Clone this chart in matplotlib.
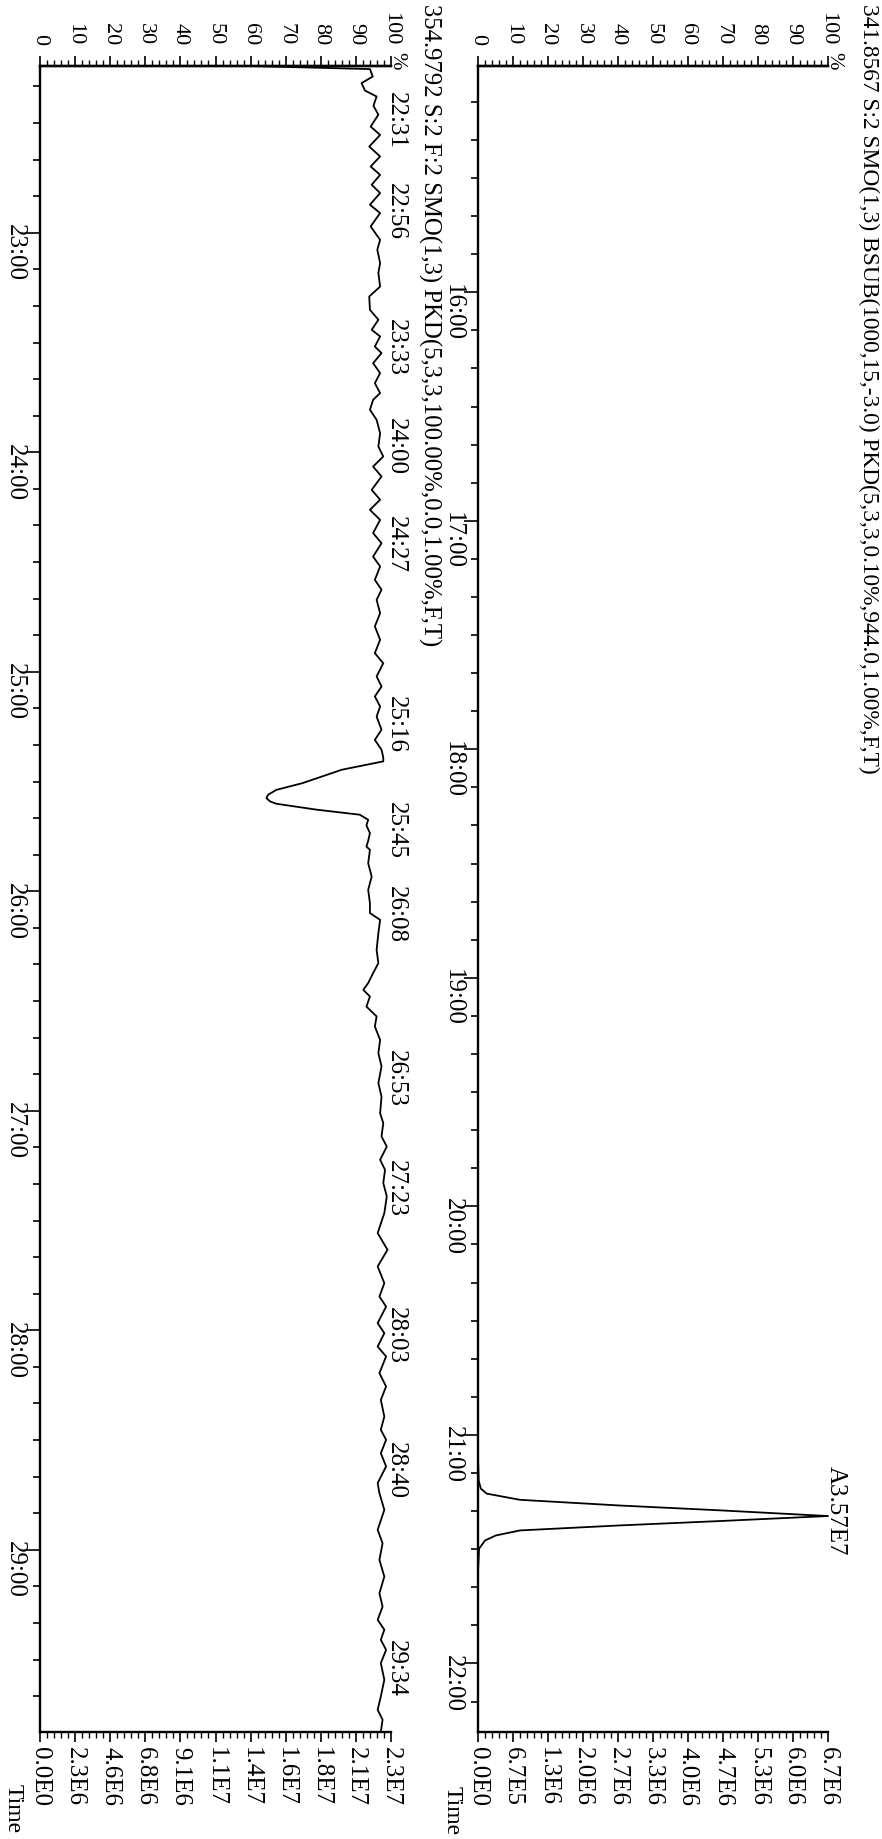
import matplotlib
matplotlib.use('Agg')
import matplotlib.pyplot as plt
from matplotlib.ticker import MultipleLocator, FixedLocator

plt.rcParams['font.family'] = ['Liberation Serif', 'DejaVu Serif']

# ---- data (time in minutes, intensity in %) ----
title_a = '341.8567 S:2 SMO(1,3) BSUB(1000,15,-3.0) PKD(5,3,3,0.10%,944.0,1.00%,F,T)'
title_b = '354.9792 S:2 F:2 SMO(1,3) PKD(5,3,3,100.00%,0.0,1.00%,F,T)'

range_a = (15.01, 22.30)
range_b = (22.24, 29.83)

time_a = [15.01, 21.10, 21.20, 21.235, 21.257, 21.284, 21.309, 21.330, 21.355,
          21.377, 21.396, 21.418, 21.440, 21.462, 21.498, 21.60, 22.30]
int_a = [0, 0, 0.2, 0.8, 2.5, 12, 40.6, 69, 100,
         69, 40.6, 12, 5.1, 2, 0.3, 0, 0]

time_b = [22.240, 22.254, 22.288, 22.318, 22.352, 22.379, 22.421, 22.462, 22.516,
          22.554, 22.607, 22.652, 22.698, 22.736, 22.781, 22.819, 22.872, 22.910,
          22.971, 23.032, 23.077, 23.138, 23.183, 23.245, 23.290, 23.351, 23.396,
          23.442, 23.472, 23.518, 23.548, 23.594, 23.639, 23.685, 23.730, 23.761,
          23.806, 23.852, 23.913, 23.974, 24.019, 24.065, 24.110, 24.171, 24.216,
          24.262, 24.308, 24.368, 24.414, 24.475, 24.520, 24.581, 24.626, 24.672,
          24.733, 24.793, 24.854, 24.915, 24.961, 25.021, 25.067, 25.112, 25.158,
          25.204, 25.264, 25.310, 25.355, 25.390, 25.408, 25.446, 25.507, 25.538,
          25.560, 25.575, 25.590, 25.601, 25.628, 25.651, 25.674, 25.700, 25.735,
          25.770, 25.796, 25.811, 25.872, 25.933, 25.993, 26.054, 26.099, 26.130,
          26.190, 26.267, 26.327, 26.373, 26.418, 26.449, 26.479, 26.525, 26.570,
          26.616, 26.677, 26.737, 26.798, 26.874, 26.935, 27.011, 27.056, 27.117,
          27.163, 27.223, 27.269, 27.329, 27.390, 27.466, 27.557, 27.633, 27.709,
          27.785, 27.846, 27.892, 27.967, 28.013, 28.074, 28.119, 28.195, 28.256,
          28.317, 28.393, 28.453, 28.499, 28.560, 28.620, 28.696, 28.742, 28.818,
          28.909, 28.970, 29.046, 29.122, 29.198, 29.259, 29.319, 29.364, 29.410,
          29.456, 29.516, 29.592, 29.668, 29.729, 29.774, 29.830]
int_b = [60.0, 94.0, 94.8, 91.6, 92.6, 95.9, 95.0, 96.4, 94.2,
         96.9, 93.8, 96.9, 94.2, 96.9, 94.5, 96.9, 94.0, 96.9,
         94.2, 96.9, 96.1, 96.9, 96.4, 96.9, 93.8, 94.0, 96.4,
         94.5, 96.9, 95.4, 97.3, 94.9, 96.9, 95.4, 96.9, 94.9,
         94.0, 95.9, 96.9, 96.4, 97.8, 94.9, 97.3, 94.5, 96.9,
         94.0, 96.9, 94.9, 97.3, 94.9, 96.9, 95.4, 97.3, 95.9,
         96.9, 95.4, 96.9, 95.4, 97.8, 95.9, 97.3, 95.4, 96.9,
         95.9, 97.3, 95.4, 97.3, 97.8, 97.8, 86.0, 74.8, 67.3,
         65.0, 64.5, 65.5, 67.3, 78.8, 91.1, 93.5, 93.0, 94.0,
         93.5, 93.0, 94.0, 93.5, 94.5, 93.5, 94.0, 94.0, 96.9,
         96.4, 95.9, 96.4, 94.9, 93.5, 92.1, 94.0, 93.0, 95.9,
         95.4, 96.9, 96.4, 97.3, 96.4, 97.3, 96.9, 97.8, 97.3,
         98.8, 96.9, 98.3, 97.8, 98.8, 98.1, 96.2, 99.0, 96.2,
         98.1, 96.7, 98.6, 96.2, 98.1, 96.2, 98.6, 96.7, 98.6,
         97.1, 98.1, 97.1, 98.6, 97.1, 98.6, 96.2, 96.7, 98.1,
         96.2, 97.6, 96.7, 98.1, 96.7, 97.6, 96.2, 98.1, 97.1,
         98.6, 97.1, 98.1, 97.1, 96.2, 97.6, 97.1]

peak_a = [(21.355, 'A3.57E7')]
peak_b = ['22:31', '22:56', '23:33', '24:00', '24:27', '25:16', '25:45',
          '26:08', '26:53', '27:23', '28:03', '28:40', '29:34']

pct_ticks = [0, 10, 20, 30, 40, 50, 60, 70, 80, 90, 100]
pct_labels = ['0', '10', '20', '30', '40', '50', '60', '70', '80', '90', '100']
abs_labels_a = ['0.0E0', '6.7E5', '1.3E6', '2.0E6', '2.7E6', '3.3E6',
                '4.0E6', '4.7E6', '5.3E6', '6.0E6', '6.7E6']
abs_labels_b = ['0.0E0', '2.3E6', '4.6E6', '6.8E6', '9.1E6', '1.1E7',
                '1.4E7', '1.6E7', '1.8E7', '2.1E7', '2.3E7']

W, H = 882, 1839
fig = plt.figure(figsize=(W / 100, H / 100), dpi=100)


def panel(left_px, width_px, times, ints, trange, abs_labels):
    ax = fig.add_axes([left_px / W, 1 - 1732 / H, width_px / W, 1666 / H])
    ax.plot(ints, times, color='black', lw=1.3, clip_on=False)
    ax.set_xlim(0, 100)
    ax.set_ylim(trange[1], trange[0])
    ax.spines['right'].set_visible(False)
    for s in ('left', 'top', 'bottom'):
        ax.spines[s].set_linewidth(1.7)

    # time axis (vertical)
    first = int(trange[0]) + 1
    majors = list(range(first, int(trange[1]) + 1))
    ax.yaxis.set_major_locator(FixedLocator(majors))
    ax.set_yticklabels([f'{m}:00' for m in majors])
    ax.yaxis.set_minor_locator(MultipleLocator(1 / 6))
    ax.tick_params(axis='y', which='major', direction='out', length=10, width=1.2,
                   pad=0, labelrotation=-90, labelsize=18)
    ax.tick_params(axis='y', which='minor', direction='out', length=5, width=1.2)

    # absolute intensity axis (bottom)
    ax.set_xticks(pct_ticks)
    ax.set_xticklabels(abs_labels)
    ax.xaxis.set_minor_locator(MultipleLocator(2))
    ax.tick_params(axis='x', which='major', direction='out', length=7, width=1.2,
                   pad=4, labelrotation=-90, labelsize=18)
    ax.tick_params(axis='x', which='minor', direction='out', length=4, width=1.0)

    # relative intensity axis (top)
    top = ax.secondary_xaxis('top')
    top.set_xticks(pct_ticks)
    top.set_xticklabels(pct_labels)
    top.xaxis.set_minor_locator(MultipleLocator(2))
    top.spines['top'].set_linewidth(1.7)
    top.tick_params(axis='x', which='major', direction='out', length=7, width=1.2,
                    pad=8, labelrotation=-90, labelsize=16)
    top.tick_params(axis='x', which='minor', direction='out', length=4, width=1.0)
    ax.annotate('%', xy=(1.0, 1.0), xycoords='axes fraction', xytext=(4, 4),
                textcoords='offset points', rotation=-90, ha='center',
                va='center', fontsize=15)
    return ax


ax_a = panel(478, 350, time_a, int_a, range_a, abs_labels_a)
ax_b = panel(40, 351, time_b, int_b, range_b, abs_labels_b)

for t, lab in peak_a:
    ax_a.annotate(lab, xy=(100, t), xytext=(-2, 4), textcoords='offset points',
                  rotation=-90, ha='left', va='center', fontsize=18,
                  annotation_clip=False)

for lab in peak_b:
    m, s = lab.split(':')
    t = int(m) + int(s) / 60
    ax_b.annotate(lab, xy=(98.3, t), xytext=(0, 4.5), textcoords='offset points',
                  rotation=-90, ha='left', va='center', fontsize=18,
                  annotation_clip=False)

fig.text(858 / W, 1 - 4 / H, title_a, rotation=-90, ha='left', va='top', fontsize=16.8)
fig.text(418 / W, 1 - 4 / H, title_b, rotation=-90, ha='left', va='top', fontsize=17.8)

fig.text(452 / W, 1 - 1786 / H, 'Time', rotation=-90, ha='center', va='top', fontsize=17)
fig.text(13 / W, 1 - 1784 / H, 'Time', rotation=-90, ha='center', va='top', fontsize=17)

fig.savefig('out.png', dpi=100, facecolor='white')
